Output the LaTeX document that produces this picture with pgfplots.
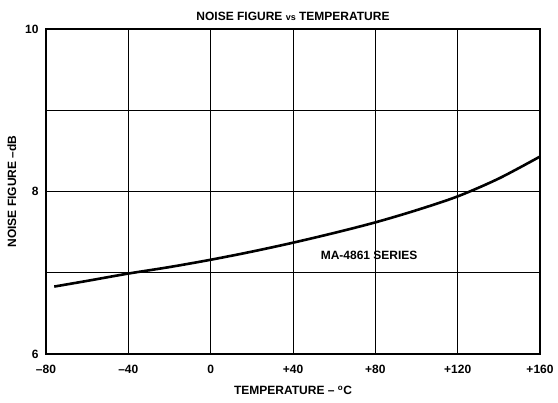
\documentclass[border=0pt]{standalone}
\usepackage{pgfplots}
\pgfplotsset{compat=1.18}
\usepackage{fontspec}
\setmainfont{Liberation Sans}
\begin{document}
\begin{tikzpicture}
\begin{axis}[
  scale only axis,
  width=494pt, height=325pt,
  xmin=-80, xmax=160, ymin=6, ymax=10,
  xtick={-80,-40,0,40,80,120,160},
  xticklabels={--80,--40,0,+40,+80,+120,+160},
  ytick={6,7,8,9,10},
  yticklabels={6,,8,,10},
  grid=major,
  major grid style={black, line width=0.9pt},
  axis line style={black, line width=1.6pt},
  tick style={draw=none},
  ticklabel style={font=\fontsize{12}{13}\selectfont\bfseries},
  /pgf/number format/assume math mode=true,
  xticklabel style={yshift=-8pt},
  yticklabel style={xshift=-4pt},
  title={NOISE FIGURE {\fontsize{9}{10}\selectfont vs} TEMPERATURE},
  title style={font=\fontsize{12}{13}\selectfont\bfseries, yshift=-1pt},
  xlabel={TEMPERATURE -- \textsuperscript{o}C},
  xlabel style={font=\fontsize{12}{13}\selectfont\bfseries, yshift=-5pt},
  ylabel={NOISE FIGURE --dB},
  ylabel style={font=\fontsize{12}{13}\selectfont\bfseries, yshift=2pt},
]
\addplot[black, line width=2.6pt, smooth] coordinates {
(-76,6.83) (-60,6.90) (-40,6.99) (-20,7.07) (0,7.16) (20,7.26) (40,7.37) (60,7.49) (80,7.62) (100,7.77) (120,7.94) (140,8.16) (160,8.43)
};
\node[font=\fontsize{12}{13}\selectfont\bfseries] at (axis cs:77,7.22) {MA-4861 SERIES};
\coordinate (bl) at (rel axis cs:0,0);
\coordinate (tr) at (rel axis cs:1,1);
\end{axis}
\path ([xshift=-46pt,yshift=-48pt]bl) rectangle ([xshift=18pt,yshift=29pt]tr);
\end{tikzpicture}
\end{document}
